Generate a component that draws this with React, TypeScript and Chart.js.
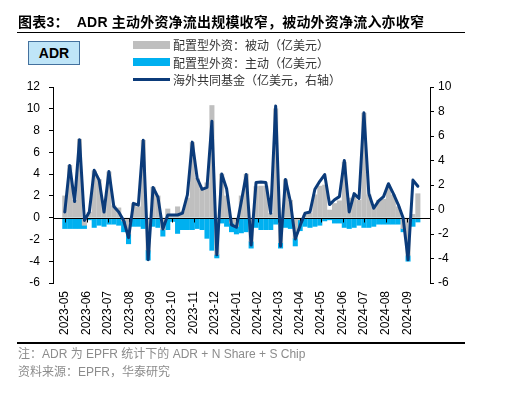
import React, { useEffect, useRef } from "react";
import { Chart, registerables } from "chart.js";

Chart.register(...registerables);

const weeks = [
  "2023-05-03", "2023-05-10", "2023-05-17", "2023-05-24", "2023-05-31",
  "2023-06-07", "2023-06-14", "2023-06-21", "2023-06-28",
  "2023-07-05", "2023-07-12", "2023-07-19", "2023-07-26",
  "2023-08-02", "2023-08-09", "2023-08-16", "2023-08-23", "2023-08-30",
  "2023-09-06", "2023-09-13", "2023-09-20", "2023-09-27",
  "2023-10-04", "2023-10-11", "2023-10-18", "2023-10-25",
  "2023-11-01", "2023-11-08", "2023-11-15", "2023-11-22", "2023-11-29",
  "2023-12-06", "2023-12-13", "2023-12-20", "2023-12-27",
  "2024-01-03", "2024-01-10", "2024-01-17", "2024-01-24", "2024-01-31",
  "2024-02-07", "2024-02-14", "2024-02-21", "2024-02-28",
  "2024-03-06", "2024-03-13", "2024-03-20", "2024-03-27",
  "2024-04-03", "2024-04-10", "2024-04-17", "2024-04-24",
  "2024-05-01", "2024-05-08", "2024-05-15", "2024-05-22", "2024-05-29",
  "2024-06-05", "2024-06-12", "2024-06-19", "2024-06-26",
  "2024-07-03", "2024-07-10", "2024-07-17", "2024-07-24", "2024-07-31",
  "2024-08-07", "2024-08-14", "2024-08-21", "2024-08-28",
  "2024-09-04", "2024-09-11", "2024-09-18",
];

const monthLabels = [
  "2023-05", "2023-06", "2023-07", "2023-08", "2023-09", "2023-10", "2023-11", "2023-12",
  "2024-01", "2024-02", "2024-03", "2024-04", "2024-05", "2024-06", "2024-07", "2024-08", "2024-09",
];

// 配置型外资：被动（亿美元）
const passive = [
  2.0, 4.8, 1.6, 7.2, -0.7, 0.5, 4.3, 3.5, 1.2, 4.2,
  1.1, 0.9, -0.3, -1.5, 1.3, 1.0, 7.1, -3.0, 2.8, 2.0,
  -1.1, 0.8, 0.2, 1.0, 0.55, 1.8, 6.9, 3.6, 2.6, 3.2,
  10.3, -3.4, 4.0, 2.0, -0.5, -0.8, 2.0, 4.0, -2.2, 2.85,
  2.9, 2.9, 0.4, 10.0, -2.3, 3.5, 1.6, -1.9, -0.2, 0.25,
  0.4, 2.1, 2.9, 3.0, 0.7, 1.3, 1.55, 5.1, 1.8, 1.9,
  1.6, 9.6, 2.1, 1.0, 1.6, 1.7, 3.0, 2.1, 1.0, -1.0,
  -3.5, 0.3, 2.2,
];

// 配置型外资：主动（亿美元）
const active = [
  -1.0, -1.0, -1.0, -1.0, -0.3, -0.2, -0.9, -0.7, -0.8, -0.6,
  -0.6, -0.7, -1.0, -0.9, -0.8, -0.8, -1.0, -0.9, -0.8, -0.9,
  -0.6, -1.1, -0.35, -1.45, -1.1, -1.1, -1.1, -1.0, -1.1, -1.9,
  -3.0, -0.3, -0.5, -0.8, -0.8, -0.7, -1.4, -1.3, -0.6, -0.9,
  -1.1, -1.1, -1.1, -0.6, -0.5, -0.9, -1.0, -0.7, -1.0, -0.8,
  -0.9, -0.8, -0.7, -0.3, -0.2, -0.5, -0.5, -0.9, -1.0, -0.9,
  -0.7, -0.9, -0.9, -0.8, -0.6, -0.6, -0.6, -0.6, -0.6, -0.3,
  -0.5, -0.8, -0.4,
];

// 海外共同基金（亿美元，右轴）
const mutualFund = [
  -0.2, 3.6, 0.65, 5.7, -0.9, -0.2, 3.2, 2.4, -0.2, 3.1,
  0.25, -0.2, -0.9, -2.3, 0.5, 0.35, 5.65, -4.1, 1.8, 1.0,
  -1.6, -0.45, -0.45, -0.45, -0.3, 1.2, 5.5, 2.55, 1.65, 1.8,
  7.2, -3.7, 2.9, 1.7, -1.25, -1.45, 0.65, 2.85, -2.9, 2.2,
  2.25, 2.2, -0.3, 8.45, -3.0, 2.45, 0.65, -2.4, -1.3, -0.3,
  -0.2, 1.65, 2.3, 2.85, 0.4, 0.8, 1.05, 4.0, -0.2, 1.3,
  0.9, 7.9, 1.3, 0.1, 0.7, 1.05, 2.1, 1.3, 0.4, -0.7,
  -4.1, 2.4, 1.9,
];

const leftTicks = { min: -6, max: 12, step: 2 };
const rightTicks = { min: -6, max: 10, step: 2 };

const DAY = 86400000;
const t0 = Date.parse(weeks[0]);
const toDay = (s: string) => Math.round((Date.parse(s) - t0) / DAY);
const monthPos = monthLabels.map((m) => toDay(m + "-03"));

const GRAY = "#BFBFBF";
const BLUE = "#00B0F0";
const NAVY = "#0B3B7A";

const zeroLinePlugin = {
  id: "zeroLine",
  beforeDatasetDraw(chart: any, args: any) {
    if (args.index !== 2) return;
    const { ctx, chartArea, scales } = chart;
    const y = Math.round(scales.y.getPixelForValue(0)) + 0.5;
    ctx.save();
    ctx.strokeStyle = "#000";
    ctx.lineWidth = 1;
    ctx.beginPath();
    ctx.moveTo(chartArea.left, y);
    ctx.lineTo(chartArea.right, y);
    scales.x.ticks.forEach((t: any) => {
      const x = Math.round(scales.x.getPixelForValue(t.value)) + 0.5;
      ctx.moveTo(x, y);
      ctx.lineTo(x, y + 4);
    });
    ctx.stroke();
    ctx.restore();
  },
};

const tickFont = { family: "'Liberation Sans', Arial, sans-serif", size: 12 };
const cjk = "'Liberation Sans', 'Noto Sans CJK SC', sans-serif";

function ChartCanvas() {
  const ref = useRef<HTMLCanvasElement | null>(null);
  useEffect(() => {
    if (!ref.current) return;
    const xs = weeks.map(toDay);
    const chart = new Chart(ref.current, {
      type: "bar",
      data: {
        datasets: [
          {
            type: "bar",
            label: "配置型外资：主动（亿美元）",
            data: active.map((v, i) => ({ x: xs[i], y: v })),
            backgroundColor: BLUE,
            barThickness: 4.4,
            yAxisID: "y",
            order: 2,
          },
          {
            type: "bar",
            label: "配置型外资：被动（亿美元）",
            data: passive.map((v, i) => ({ x: xs[i], y: v })),
            backgroundColor: GRAY,
            barThickness: 4.4,
            yAxisID: "y",
            order: 1,
          },
          {
            type: "line",
            label: "海外共同基金（亿美元，右轴）",
            data: mutualFund.map((v, i) => ({ x: xs[i], y: v })),
            borderColor: NAVY,
            borderWidth: 3,
            pointRadius: 0,
            tension: 0,
            borderJoinStyle: "round",
            borderCapStyle: "round",
            yAxisID: "y1",
            order: 0,
          },
        ],
      } as any,
      options: {
        animation: false,
        responsive: false,
        maintainAspectRatio: false,
        layout: { padding: { top: 87, bottom: 50, left: 0, right: 0 } },
        plugins: { legend: { display: false }, tooltip: { enabled: false }, title: { display: false } },
        scales: {
          x: {
            type: "linear",
            stacked: true,
            min: -1,
            max: 505.5,
            grid: { display: false, drawTicks: false },
            border: { display: false },
            ticks: {
              autoSkip: false,
              maxRotation: 90,
              minRotation: 90,
              padding: 8,
              color: "#000",
              font: tickFont,
              callback: (_v: any, i: number) => monthLabels[i],
            },
            afterBuildTicks: (scale: any) => {
              scale.ticks = monthPos.map((v) => ({ value: v }));
            },
            afterFit: (scale: any) => {
              scale.height = 60;
            },
          },
          y: {
            position: "left",
            stacked: true,
            min: leftTicks.min,
            max: leftTicks.max,
            ticks: { stepSize: leftTicks.step, padding: 9, color: "#000", font: tickFont },
            grid: { drawOnChartArea: false, drawTicks: true, tickLength: 4, color: "#000" },
            border: { display: true, color: "#000", width: 1 },
            afterFit: (scale: any) => {
              scale.width = 53;
            },
          },
          y1: {
            position: "right",
            min: rightTicks.min,
            max: rightTicks.max,
            ticks: { stepSize: rightTicks.step, padding: 4, color: "#000", font: tickFont },
            grid: { drawOnChartArea: false, drawTicks: true, tickLength: 4, color: "#000" },
            border: { display: true, color: "#000", width: 1 },
            afterFit: (scale: any) => {
              scale.width = 75;
            },
          },
        },
      } as any,
      plugins: [zeroLinePlugin],
    });
    return () => chart.destroy();
  }, []);
  return (
    <canvas
      ref={ref}
      width={505}
      height={393}
      style={{ position: "absolute", left: 0, top: 0, width: 505, height: 393 }}
    />
  );
}

const legendItems = [
  { label: "配置型外资：被动（亿美元）", color: GRAY, kind: "bar" },
  { label: "配置型外资：主动（亿美元）", color: BLUE, kind: "bar" },
  { label: "海外共同基金（亿美元，右轴）", color: NAVY, kind: "line" },
];

export default function App() {
  return (
    <div
      style={{
        position: "fixed",
        left: 0,
        top: 0,
        width: 505,
        height: 393,
        background: "#fff",
        overflow: "hidden",
        fontFamily: cjk,
      }}
    >
      <ChartCanvas />
      <div
        style={{
          position: "absolute",
          left: 18,
          top: 13,
          fontSize: 14,
          fontWeight: 700,
          color: "#000",
          whiteSpace: "nowrap",
          lineHeight: "18px",
          letterSpacing: "0.2px",
        }}
      >
        图表3：&nbsp;&nbsp;ADR 主动外资净流出规模收窄，被动外资净流入亦收窄
      </div>
      <div style={{ position: "absolute", left: 17, top: 31.5, width: 448, height: 1.5, background: "#000" }} />
      <div
        style={{
          position: "absolute",
          left: 28,
          top: 41,
          width: 50,
          height: 22,
          background: "#BFE5F8",
          border: "1.5px solid #44719E",
          display: "flex",
          alignItems: "center",
          justifyContent: "center",
          fontFamily: "'Liberation Sans', Arial, sans-serif",
          fontWeight: 700,
          fontSize: 14,
          color: "#000",
        }}
      >
        ADR
      </div>
      {legendItems.map((it, i) => (
        <div
          key={it.label}
          style={{
            position: "absolute",
            left: 133,
            top: 36 + i * 17.6,
            height: 17,
            display: "flex",
            alignItems: "center",
            whiteSpace: "nowrap",
          }}
        >
          <div
            style={{
              width: 37,
              height: it.kind === "bar" ? 8 : 3,
              background: it.color,
              marginRight: 3,
            }}
          />
          <span style={{ fontSize: 12, color: "#333", fontFamily: "'Noto Sans CJK SC', sans-serif" }}>{it.label}</span>
        </div>
      ))}
      <div style={{ position: "absolute", left: 17, top: 342, width: 448, height: 1.5, background: "#000" }} />
      <div
        style={{
          position: "absolute",
          left: 18,
          top: 346,
          fontSize: 12,
          color: "#8C8C8C",
          whiteSpace: "nowrap",
          lineHeight: "17px",
        }}
      >
        注：ADR 为 EPFR 统计下的 ADR + N Share + S Chip
      </div>
      <div
        style={{
          position: "absolute",
          left: 18,
          top: 364,
          fontSize: 12,
          color: "#8C8C8C",
          whiteSpace: "nowrap",
          lineHeight: "17px",
        }}
      >
        资料来源：EPFR，华泰研究
      </div>
    </div>
  );
}
